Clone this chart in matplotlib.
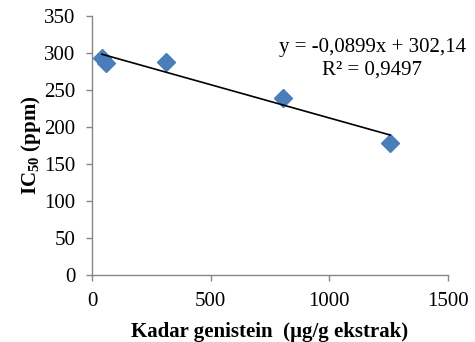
import numpy as np
import matplotlib
matplotlib.use("Agg")
from matplotlib import pyplot as plt

plt.rcParams['font.family'] = ['Liberation Serif', 'DejaVu Serif']
plt.rcParams['mathtext.fontset'] = 'custom'
plt.rcParams['mathtext.rm'] = 'Liberation Serif'
plt.rcParams['mathtext.bf'] = 'Liberation Serif:bold'

# data
kadar = [41, 59, 312, 803, 1256]
ic50 = [293, 287, 288, 239, 179]
slope = -0.0899
intercept = 302.14
r2_label = "R² = 0,9497"
eq_label = "y = -0,0899x + 302,14"

fig = plt.figure(figsize=(4.75, 3.42), dpi=100)
ax = fig.add_axes([0.194, 0.196, 0.749, 0.757])

x_fit = np.array([min(kadar), max(kadar)])
ax.plot(x_fit, slope * x_fit + intercept, color='black', lw=1.2, zorder=3)
ax.plot(kadar, ic50, linestyle='none', marker='D', markersize=9,
        color='#4A7EBB', markeredgecolor='#4A7EBB', zorder=2)

ax.set_xlim(0, 1500)
ax.set_ylim(0, 350)
ax.set_xticks([0, 500, 1000, 1500])
ax.set_yticks(range(0, 351, 50))
ax.tick_params(labelsize=15, color='#868686', length=4, width=1)
ax.tick_params(axis='x', pad=8)
ax.tick_params(axis='y', pad=8)
for side in ['top', 'right']:
    ax.spines[side].set_visible(False)
for side in ['left', 'bottom']:
    ax.spines[side].set_color('#868686')
    ax.spines[side].set_linewidth(1)

ax.set_xlabel("Kadar genistein  (µg/g ekstrak)", fontsize=15, fontweight='bold', labelpad=8)
ax.set_ylabel(r"IC$_{\mathbf{50}}$ (ppm)", fontsize=15, fontweight='bold', labelpad=1)

ax.text(0.787, 0.878, eq_label, transform=ax.transAxes, ha='center', va='center', fontsize=15)
ax.text(0.787, 0.793, r2_label, transform=ax.transAxes, ha='center', va='center', fontsize=15)

plt.savefig("out.png", dpi=100)
